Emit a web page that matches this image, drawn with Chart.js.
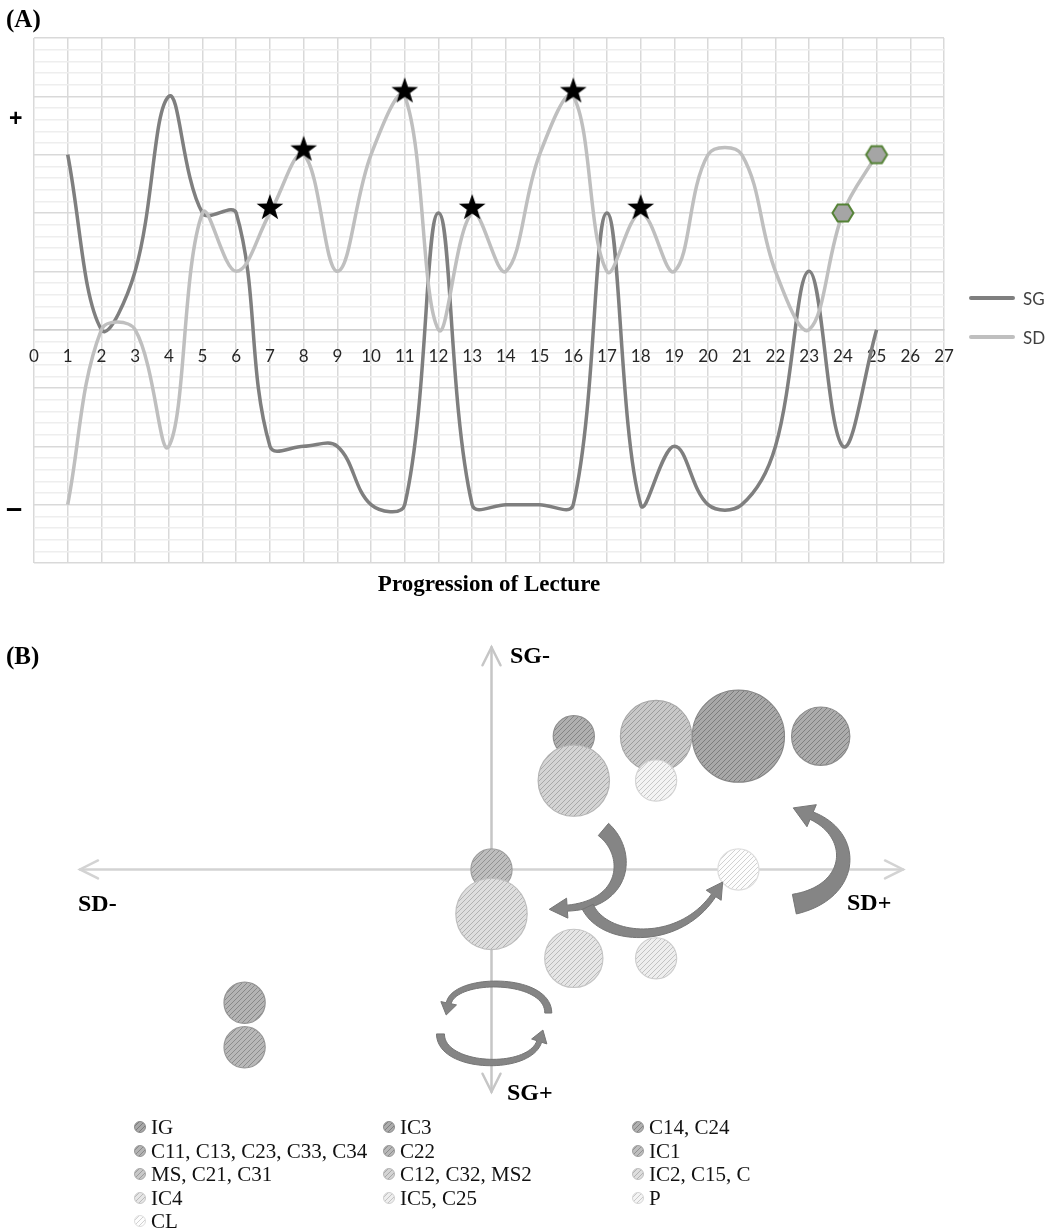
<!DOCTYPE html>
<html>
<head>
<meta charset="utf-8">
<script src="https://cdn.jsdelivr.net/npm/chart.js@4.4.1/dist/chart.umd.min.js"></script>
<style>
  body { margin: 0; background: #fff; }
  #page { position: relative; width: 1054px; height: 1232px; overflow: hidden; background: #fff; }
  .abs { position: absolute; white-space: nowrap; }
  .serifb { font-family: 'Liberation Serif', 'Times New Roman', serif; font-weight: bold; color: #000; line-height: 1; }
  .sign { font-family: 'Liberation Sans', Arial, sans-serif; font-weight: bold; color: #000; line-height: 1; }
  .lgA { font-family: Lato, sans-serif; font-size: 17px; color: #404040; line-height: 1; }
  .lgA i { position: absolute; left: -54px; top: 6px; width: 46px; height: 4px; border-radius: 2px; }
  .lgB { font-family: 'Liberation Serif', 'Times New Roman', serif; font-size: 21px; color: #111; line-height: 24px; height: 24px; display: flex; align-items: center; }
  .lgB b { display: inline-block; width: 12px; height: 12px; border-radius: 50%; margin-right: 5px; box-sizing: border-box; }
</style>
</head>
<body>
<div id="page">
  <div class="abs" style="left:0;top:0;width:1054px;height:600px"><canvas id="chartA"></canvas></div>
  <div class="abs" style="left:0;top:600px;width:1054px;height:632px"><canvas id="chartB"></canvas></div>

  <div class="abs serifb" style="left:6px;top:6px;font-size:25px">(A)</div>
  <div class="abs sign" style="left:9px;top:107px;font-size:23px">+</div>
  <div class="abs sign" style="left:6px;top:494px;font-size:29px">–</div>
  <div class="abs serifb" style="left:0;width:978px;text-align:center;top:572px;font-size:23px">Progression of Lecture</div>
  <div class="abs lgA" style="left:1023px;top:290px"><i style="background:#7f7f7f"></i>SG</div>
  <div class="abs lgA" style="left:1023px;top:329px"><i style="background:#bfbfbf"></i>SD</div>

  <div class="abs serifb" style="left:6px;top:643px;font-size:25px">(B)</div>
  <div class="abs serifb" style="left:510px;top:643px;font-size:24px">SG-</div>
  <div class="abs serifb" style="left:78px;top:891px;font-size:24px">SD-</div>
  <div class="abs serifb" style="left:847px;top:890px;font-size:24px">SD+</div>
  <div class="abs serifb" style="left:507px;top:1080px;font-size:24px">SG+</div>
  <div id="legendB"></div>
</div>

<script>
// (A) lecture progression
const lecture = [1, 2, 3, 4, 5, 6, 7, 8, 9, 10, 11, 12, 13, 14, 15, 16, 17, 18, 19, 20, 21, 22, 23, 24, 25];
const sgValues = [3, 0, 1, 4, 2, 2, -2, -2, -2, -3, -3, 2, -3, -3, -3, -3, 2, -3, -2, -3, -3, -2, 1, -2, 0];
const sdValues = [-3, 0, 0, -2, 2, 1, 2, 3, 1, 3, 4, 0, 2, 1, 3, 4, 1, 2, 1, 3, 3, 1, 0, 2, 3];
const starAt = [7, 8, 11, 13, 16, 18];
const hexAt = [24, 25];

// (B) bubble groups
const groupLabels = ['IG', 'IC3', 'C14, C24', 'C11, C13, C23, C33, C34', 'C22', 'IC1',
  'MS, C21, C31', 'C12, C32, MS2', 'IC2, C15, C', 'IC4', 'IC5, C25', 'P', 'CL'];
const groupSD = [3, 4, 1, -3, -3, 0, 2, 1, 0, 1, 2, 2, 3];
const groupSG = [3, 3, 3, -3, -4, 0, 3, 2, -1, -2, -2, 2, 0];
const groupSize = [5, 2, 1, 1, 1, 1, 3, 3, 3, 2, 1, 1, 1];

const groupShade = [0x9a, 0x9e, 0xa2, 0xa6, 0xaa, 0xb0, 0xba, 0xc6, 0xd0, 0xd8, 0xe0, 0xe6, 0xef];

function grey(v) { v = Math.max(0, Math.min(255, Math.round(v))); return 'rgb(' + v + ',' + v + ',' + v + ')'; }

function hatch(v) {
  const s = 5;
  const c = document.createElement('canvas');
  c.width = s; c.height = s;
  const g = c.getContext('2d');
  g.fillStyle = grey(v + 14);
  g.fillRect(0, 0, s, s);
  g.strokeStyle = grey(v - 30);
  g.lineWidth = 1;
  g.beginPath();
  g.moveTo(-1, s + 1); g.lineTo(s + 1, -1);
  g.moveTo(-1, 1); g.lineTo(1, -1);
  g.moveTo(s - 1, s + 1); g.lineTo(s + 1, s - 1);
  g.stroke();
  return g.createPattern(c, 'repeat');
}

function makeStar() {
  const c = document.createElement('canvas');
  c.width = 32; c.height = 40;
  const g = c.getContext('2d');
  g.fillStyle = '#000';
  g.beginPath();
  for (let i = 0; i < 10; i++) {
    const r = i % 2 ? 5.6 : 14;
    const a = -Math.PI / 2 + i * Math.PI / 5;
    g.lineTo(16 + r * Math.cos(a), 15 + r * Math.sin(a));
  }
  g.closePath();
  g.fill();
  return c;
}

function makeHex() {
  const c = document.createElement('canvas');
  c.width = 26; c.height = 24;
  const g = c.getContext('2d');
  g.beginPath();
  for (let i = 0; i < 6; i++) {
    const a = i * Math.PI / 3;
    g.lineTo(13 + 10.5 * Math.cos(a), 12 + 9.8 * Math.sin(a));
  }
  g.closePath();
  g.fillStyle = '#a5a5a5';
  g.fill();
  g.strokeStyle = '#548235';
  g.lineWidth = 2;
  g.stroke();
  return c;
}

const starImg = makeStar();
const hexImg = makeHex();

const isMajor = v => Math.abs(v - Math.round(v)) < 1e-6;

new Chart(document.getElementById('chartA'), {
  type: 'line',
  data: {
    datasets: [{
      label: 'SG',
      data: lecture.map((x, i) => ({ x: x, y: sgValues[i] })),
      borderColor: '#7f7f7f',
      borderWidth: 3.5,
      tension: 0.38,
      pointRadius: 0,
      order: 2
    }, {
      label: 'SD',
      data: lecture.map((x, i) => ({ x: x, y: sdValues[i] })),
      borderColor: '#bfbfbf',
      borderWidth: 3.5,
      tension: 0.38,
      pointStyle: lecture.map(x => starAt.includes(x) ? starImg : (hexAt.includes(x) ? hexImg : 'circle')),
      pointRadius: lecture.map(x => (starAt.includes(x) || hexAt.includes(x)) ? 10 : 0),
      order: 1
    }]
  },
  options: {
    responsive: true,
    maintainAspectRatio: false,
    animation: false,
    layout: { padding: { left: 34, right: 110, top: 38, bottom: 37 } },
    scales: {
      x: {
        type: 'linear',
        min: 0,
        max: 27,
        position: { y: 0 },
        ticks: {
          stepSize: 1,
          autoSkip: false,
          maxTicksLimit: 40,
          maxRotation: 0,
          padding: 17,
          color: '#262626',
          font: { family: 'Lato', size: 17 }
        },
        grid: { color: '#d9d9d9', lineWidth: 1.5, drawTicks: false },
        border: { color: '#cfcfcf', width: 1.5 }
      },
      y: {
        min: -4,
        max: 5,
        ticks: { display: false, stepSize: 0.2, maxTicksLimit: 60 },
        grid: {
          drawTicks: false,
          color: ctx => isMajor(ctx.tick.value) ? '#d9d9d9' : '#eeeeee',
          lineWidth: 1.5
        },
        border: { display: false },
        afterFit: s => { s.width = 0; }
      }
    },
    plugins: { legend: { display: false }, tooltip: { enabled: false } }
  }
});

// (B) decorative arrows, in axis units
const turnArrows = [
  { pts: [[1.36, 0.90], [1.70, 0.37], [1.65, -0.78], [0.92, -0.87]], w0: 16, w1: 6, len: 18, half: 10 },
  { pts: [[1.17, -0.84], [1.37, -1.62], [2.28, -1.73], [2.70, -0.58]], w0: 12, w1: 5, len: 16, half: 9 },
  { pts: [[3.68, -0.78], [4.41, -0.51], [4.45, 0.77], [3.89, 1.21]], w0: 20, w1: 8, len: 20, half: 12 },
  { pts: [[0.69, -3.23], [0.69, -2.40], [-0.45, -2.40], [-0.52, -3.01]], w0: 7, w1: 5, len: 12, half: 8 },
  { pts: [[-0.62, -3.70], [-0.62, -4.49], [0.46, -4.56], [0.58, -3.87]], w0: 8, w1: 5, len: 12, half: 8 }
];

function bez(p, t) {
  const u = 1 - t;
  return {
    x: u * u * u * p[0].x + 3 * u * u * t * p[1].x + 3 * u * t * t * p[2].x + t * t * t * p[3].x,
    y: u * u * u * p[0].y + 3 * u * u * t * p[1].y + 3 * u * t * t * p[2].y + t * t * t * p[3].y
  };
}
function bezD(p, t) {
  const u = 1 - t;
  const dx = 3 * u * u * (p[1].x - p[0].x) + 6 * u * t * (p[2].x - p[1].x) + 3 * t * t * (p[3].x - p[2].x);
  const dy = 3 * u * u * (p[1].y - p[0].y) + 6 * u * t * (p[2].y - p[1].y) + 3 * t * t * (p[3].y - p[2].y);
  const l = Math.hypot(dx, dy) || 1;
  return { x: dx / l, y: dy / l };
}

const axisArrows = {
  id: 'axisArrows',
  beforeDatasetsDraw(chart) {
    const { ctx, scales: { x, y } } = chart;
    const x0 = x.getPixelForValue(0), y0 = y.getPixelForValue(0);
    const chev = (tx, ty, dx, dy) => {
      ctx.beginPath();
      ctx.moveTo(tx - dx * 18 - dy * 9, ty - dy * 18 + dx * 9);
      ctx.lineTo(tx, ty);
      ctx.lineTo(tx - dx * 18 + dy * 9, ty - dy * 18 - dx * 9);
      ctx.stroke();
    };
    ctx.save();
    ctx.lineWidth = 2.5;
    ctx.lineCap = 'round';
    ctx.strokeStyle = '#d3d3d3';
    ctx.beginPath(); ctx.moveTo(x.left, y0); ctx.lineTo(x.right, y0); ctx.stroke();
    chev(x.left, y0, -1, 0);
    chev(x.right, y0, 1, 0);
    ctx.strokeStyle = '#c6c6c6';
    ctx.beginPath(); ctx.moveTo(x0, y.top); ctx.lineTo(x0, y.bottom); ctx.stroke();
    chev(x0, y.top, 0, -1);
    chev(x0, y.bottom, 0, 1);
    ctx.restore();
  },
  afterDatasetsDraw(chart) {
    const { ctx, scales: { x, y } } = chart;
    ctx.save();
    turnArrows.forEach(a => {
      const p = a.pts.map(q => ({ x: x.getPixelForValue(q[0]), y: y.getPixelForValue(q[1]) }));
      const left = [], right = [];
      const n = 40;
      for (let i = 0; i <= n; i++) {
        const t = i / n;
        const c = bez(p, t), d = bezD(p, t);
        const w = (a.w0 + (a.w1 - a.w0) * t) / 2;
        left.push([c.x - d.y * w, c.y + d.x * w]);
        right.push([c.x + d.y * w, c.y - d.x * w]);
      }
      const e = p[3], d = bezD(p, 1);
      ctx.beginPath();
      left.forEach((q, i) => i ? ctx.lineTo(q[0], q[1]) : ctx.moveTo(q[0], q[1]));
      ctx.lineTo(e.x - d.y * a.half, e.y + d.x * a.half);
      ctx.lineTo(e.x + d.x * a.len, e.y + d.y * a.len);
      ctx.lineTo(e.x + d.y * a.half, e.y - d.x * a.half);
      for (let i = right.length - 1; i >= 0; i--) ctx.lineTo(right[i][0], right[i][1]);
      ctx.closePath();
      ctx.fillStyle = '#858585';
      ctx.fill();
      ctx.strokeStyle = '#757575';
      ctx.lineWidth = 1;
      ctx.stroke();
    });
    ctx.restore();
  }
};

new Chart(document.getElementById('chartB'), {
  type: 'bubble',
  data: {
    datasets: groupLabels.map((label, i) => ({
      label: label,
      data: [{ x: groupSD[i], y: groupSG[i], r: 20.6 * Math.sqrt(groupSize[i]) }],
      backgroundColor: hatch(groupShade[i]),
      borderColor: grey(groupShade[i] - 18),
      borderWidth: 1.2,
      order: groupLabels.length - i
    }))
  },
  options: {
    responsive: true,
    maintainAspectRatio: false,
    animation: false,
    layout: { padding: { left: 80, right: 151, top: 41.7, bottom: 140.3 } },
    scales: {
      x: { display: false, min: -5, max: 5 },
      y: { display: false, min: -5, max: 5 }
    },
    plugins: { legend: { display: false }, tooltip: { enabled: false } }
  },
  plugins: [axisArrows]
});

// (B) legend, three columns, row-major
const legendB = document.getElementById('legendB');
groupLabels.forEach((label, i) => {
  const col = i % 3, row = Math.floor(i / 3);
  const v = groupShade[i];
  const item = document.createElement('div');
  item.className = 'abs lgB';
  item.style.left = (134 + col * 249) + 'px';
  item.style.top = (1115 + row * 23.5) + 'px';
  const dot = document.createElement('b');
  dot.style.background = 'repeating-linear-gradient(135deg,' + grey(v + 14) + ' 0 2.5px,' + grey(v - 30) + ' 2.5px 3.5px)';
  dot.style.border = '1px solid ' + grey(v - 18);
  item.appendChild(dot);
  item.appendChild(document.createTextNode(label));
  legendB.appendChild(item);
});
</script>
</body>
</html>
